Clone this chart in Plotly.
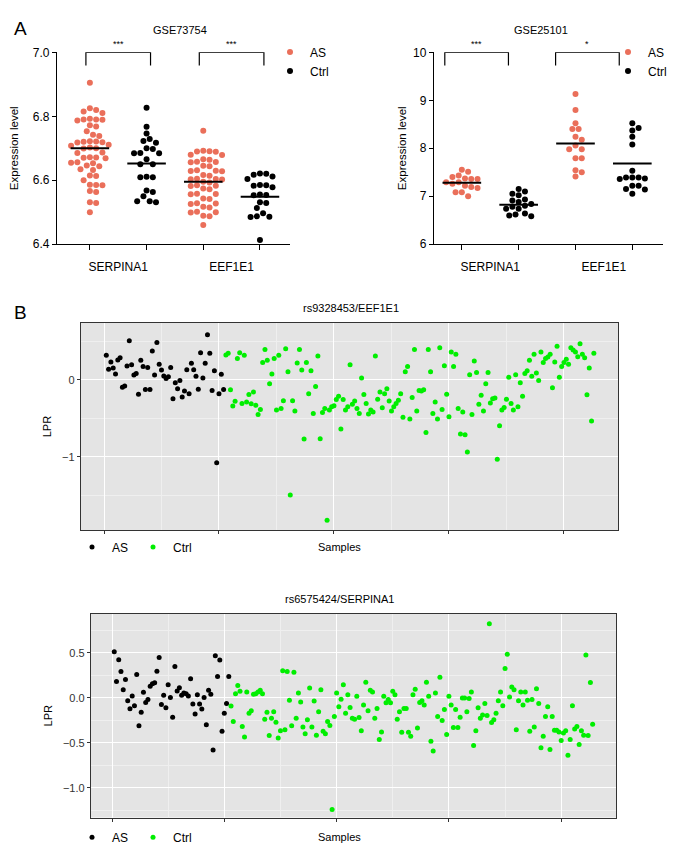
import plotly.graph_objects as go

# ---------------- Data ----------------
genes = ["SERPINA1", "EEF1E1"]
groups = ["AS", "Ctrl"]

# Panel A, GSE73754
gse73754_as_serpina1 = [6.905, 6.825, 6.82, 6.815, 6.81, 6.792, 6.79, 6.789, 6.79, 6.787,
                        6.772, 6.768, 6.753, 6.742, 6.738, 6.722, 6.72, 6.719, 6.721, 6.718,
                        6.711, 6.708, 6.70, 6.702, 6.699, 6.687, 6.685, 6.672, 6.67, 6.669,
                        6.671, 6.656, 6.655, 6.653, 6.646, 6.644, 6.634, 6.632, 6.615, 6.613,
                        6.60, 6.586, 6.585, 6.584, 6.566, 6.563, 6.531, 6.529, 6.50]
gse73754_ctrl_serpina1 = [6.827, 6.767, 6.746, 6.729, 6.723, 6.717, 6.700, 6.698, 6.684, 6.684,
                          6.685, 6.666, 6.650, 6.650, 6.611, 6.609, 6.609, 6.568, 6.563, 6.550,
                          6.534, 6.531, 6.534]
gse73754_as_eef1e1 = [6.755, 6.691, 6.69, 6.689, 6.692, 6.68, 6.679, 6.666, 6.664, 6.658,
                      6.657, 6.656, 6.645, 6.644, 6.631, 6.63, 6.629, 6.628, 6.616, 6.614,
                      6.605, 6.604, 6.603, 6.602, 6.595, 6.593, 6.584, 6.583, 6.582, 6.574,
                      6.572, 6.558, 6.557, 6.556, 6.543, 6.541, 6.528, 6.527, 6.526, 6.517,
                      6.515, 6.501, 6.50, 6.499, 6.489, 6.487, 6.46]
gse73754_ctrl_eef1e1 = [6.621, 6.62, 6.617, 6.612, 6.604, 6.585, 6.584, 6.583, 6.578, 6.555,
                        6.554, 6.553, 6.531, 6.529, 6.513, 6.497, 6.487, 6.486, 6.485, 6.413]
gse73754_means = [6.700, 6.652, 6.595, 6.548]   # AS-SERPINA1, Ctrl-SERPINA1, AS-EEF1E1, Ctrl-EEF1E1
gse73754_sig = ["***", "***"]

# Panel A, GSE25101
gse25101_as_serpina1 = [7.55, 7.51, 7.43, 7.40, 7.36, 7.37, 7.36, 7.29, 7.29, 7.26,
                        7.19, 7.22, 7.17, 7.08, 7.08, 7.00]
gse25101_ctrl_serpina1 = [7.10, 7.15, 7.02, 7.05, 6.93, 6.91, 6.84, 6.88, 6.78, 6.80,
                          6.74, 6.74, 6.64, 6.62, 6.60, 6.58]
gse25101_as_eef1e1 = [9.13, 8.80, 8.52, 8.40, 8.40, 8.24, 8.18, 8.06, 7.98, 7.98,
                      7.79, 7.79, 7.54, 7.50, 7.41]
gse25101_ctrl_eef1e1 = [8.52, 8.42, 8.37, 8.24, 8.08, 7.53, 7.39, 7.39, 7.37, 7.39,
                        7.36, 7.22, 7.22, 7.15, 7.14, 7.05]
gse25101_means = [7.28, 6.82, 8.10, 7.68]
gse25101_sig = ["***", "*"]

# Panel B, LPR per sample (in sample order)
lpr_eef1e1_as = [0.32, 0.14, 0.235, 0.154, 0.077, 0.26, 0.29, -0.094, -0.08, 0.18,
                 0.51, 0.197, 0.064, 0.085, -0.188, 0.256, 0.175, -0.124, 0.162, -0.124,
                 0.376, 0.064, 0.487, 0.205, 0.128, 0.05, 0.02, 0.043, 0.162, -0.244,
                 -0.038, -0.115, -0.009, -0.222, -0.145, 0.132, -0.18, 0.218, 0.132, 0.047,
                 -0.12, 0.355, 0.026, 0.218, 0.59, 0.346, -0.137, 0.12, -1.08, -0.18,
                 0.073, -0.124]
lpr_eef1e1_ctrl = [0.325, 0.346, -0.128, -0.34, -0.278, 0.28, 0.355, -0.308, 0.32, -0.286,
                   -0.19, -0.31, -0.158, -0.33, -0.45,
                   -0.385, 0.226, 0.397, 0.256, -0.05, 0.077, 0.278, -0.393, 0.32, -0.372,
                   -0.27, 0.406, 0.107, -1.5, -0.27, -0.406, 0.222, 0.397, 0.128, -0.77,
                   0.226, -0.18, 0.12, -0.436, -0.085, 0.312, -0.765, -0.423, -0.372, -1.83,
                   -0.393, -0.35, -0.338, -0.256, -0.214, -0.64, -0.256, -0.393, -0.35, 0.197,
                   -0.316, -0.273, -0.372, -0.436, 0.026, -0.19, -0.308, -0.444, -0.393, -0.419,
                   0.312, -0.252, -0.158, -0.363, -0.18, -0.115, -0.273, -0.406, -0.35, -0.308,
                   -0.265, -0.18, -0.487, 0.107, 0.175, -0.508, -0.23, 0.397, -0.406, -0.137,
                   -0.145, -0.128, -0.684, 0.397, 0.107, -0.436, -0.286,
                   -0.508, 0.419, -0.385, 0.184, -0.188, -0.479, 0.363, 0.175, 0.333, -0.372,
                   -0.705, -0.419, -0.714, -0.94, 0.068, -0.449, 0.248, 0.098, -0.316, -0.2,
                   -0.406, -0.05, 0.098, -0.3, -0.244, -0.235, -1.034, -0.598, -0.393, -0.36,
                   -0.252, 0.034, -0.308, -0.393, 0.068, -0.35, -0.038, -0.214, 0.085, 0.12,
                   0.256, 0.047, 0.333, 0.09, -0.009, 0.363, 0.226, 0.278, 0.3, 0.333,
                   -0.103, 0.235, 0.44, 0.034, 0.175, 0.226, 0.269, 0.205, 0.419, 0.39,
                   0.363, 0.303, 0.47, 0.333, 0.29, -0.192, 0.154, -0.534, 0.346]

lpr_serpina1_as = [0.514, 0.182, 0.423, 0.292, 0.091, 0.204, -0.033, -0.12, 0.022, -0.088,
                   0.259, -0.31, -0.16, 0.062, -0.051, -0.018, 0.128, 0.157, 0.168, 0.295,
                   0.449, -0.073, 0.029, -0.109, 0.146, 0.004, -0.215, 0.35, 0.077, 0.113,
                   0.029, 0.055, 0.047, 0.022, 0.212, -0.069, -0.179, 0.036, -0.069, -0.124,
                   0.004, -0.299, 0.084, 0.04, -0.58, 0.467, 0.237, 0.42, -0.372, -0.171,
                   -0.062, 0.237]
lpr_serpina1_ctrl = [-0.091, -0.263, 0.047, 0.139, 0.073, -0.317, -0.434, 0.066, -0.171, -0.142,
                     0.04, 0.047, 0.066, 0.084, 0.047, -0.237, -0.16, -0.419,
                     -0.226, -0.153, -0.27, -0.445, -0.365, 0.303, -0.354, 0.292, -0.026, -0.31,
                     0.284, -0.226, 0.055, -0.047, -0.325, -0.398, -0.244, 0.109, -0.325, -0.036,
                     -0.416, -0.153, 0.091, -0.372, -0.398, -0.263, -0.306, -1.24, -0.208, 0.055,
                     -0.098, -0.015, 0.146, -0.171, 0.036, -0.106, -0.226, -0.237, 0.018, -0.219,
                     -0.365, -0.08, 0.175, -0.142, 0.084, 0.066, -0.226, -0.117, -0.463, -0.379,
                     0.018, -0.055, -0.018, -0.055, 0.073, 0.036, -0.237, -0.153, -0.383, -0.117,
                     -0.117, -0.383, -0.427, 0.036, 0.095, -0.336, -0.051, -0.033, -0.08, 0.175,
                     0.018, -0.481, -0.591, 0.055, -0.208, 0.23, -0.252, -0.128, -0.408,
                     0.018, -0.08, -0.328, -0.128, -0.328, -0.215, 0.0, 0.0, -0.153, -0.007,
                     0.066, -0.529, -0.365, -0.109, -0.226, -0.19, -0.062, -0.197, 0.824, -0.274,
                     -0.244, -0.171, -0.033, 0.066, -0.088, 0.328, 0.485, 0.011, 0.12, 0.091,
                     -0.354, -0.033, 0.066, -0.08, 0.066, -0.026, -0.372, -0.018, -0.325, 0.102,
                     -0.062, -0.554, -0.427, -0.208, -0.098, -0.573, -0.208, -0.361, -0.361, -0.379,
                     -0.474, -0.39, -0.365, -0.638, -0.463, -0.088, -0.346, -0.317, -0.518, -0.365,
                     -0.416, 0.478, -0.419, 0.171, -0.292]

# ---------------- Styling ----------------
W, H = 677, 848
FONT = "Liberation Sans, Arial, Helvetica, sans-serif"
AS_COLOR = "#EA6F5A"
CTRL_COLOR = "#000000"
B_AS_COLOR = "#000000"
B_CTRL_COLOR = "#00EE00"
PANEL_BG = "#E4E4E4"


def px(x):
    return x / W


def py(y):
    return 1 - y / H


def swarm(vals, center, px_per_x, px_per_y, d):
    """Deterministic beeswarm offsets (pixel-space collision avoidance)."""
    order = sorted(range(len(vals)), key=lambda i: -vals[i])
    cands = [0.0]
    for k in range(1, 60):
        cands += [k * d * 0.5, -k * d * 0.5]
    placed, out = [], [center] * len(vals)
    for i in order:
        yv = vals[i] * px_per_y
        for c in cands:
            if all((c - a) ** 2 + (yv - b) ** 2 >= d * d for a, b in placed):
                placed.append((c, yv))
                out[i] = center + c / px_per_x
                break
    return out


fig = go.Figure()

# ---------- Panel A ----------
panelsA = [
    dict(xa="x", ya="y", leg="legend", yr=[6.4, 7.0],
         data=[gse73754_as_serpina1, gse73754_ctrl_serpina1, gse73754_as_eef1e1, gse73754_ctrl_eef1e1],
         means=gse73754_means, sig=gse73754_sig, brackets=[(0.93, 2.07), (2.93, 4.07)],
         xr=[0.42, 4.53]),
    dict(xa="x2", ya="y2", leg="legend2", yr=[6, 10],
         data=[gse25101_as_serpina1, gse25101_ctrl_serpina1, gse25101_as_eef1e1, gse25101_ctrl_eef1e1],
         means=gse25101_means, sig=gse25101_sig, brackets=[(0.70, 1.82), (2.65, 3.77)],
         xr=[0.51, 4.54]),
]
positions = [1, 2, 3, 4]
PX_PER_X = 57.0
PLOT_H = 195.0
shapes = []
annotations = []
for p in panelsA:
    pyu = PLOT_H / (p["yr"][1] - p["yr"][0])
    xs_as = swarm(p["data"][0], positions[0], PX_PER_X, pyu, 6.3) + swarm(p["data"][2], positions[2], PX_PER_X, pyu, 6.3)
    ys_as = p["data"][0] + p["data"][2]
    xs_ct = swarm(p["data"][1], positions[1], PX_PER_X, pyu, 6.3) + swarm(p["data"][3], positions[3], PX_PER_X, pyu, 6.3)
    ys_ct = p["data"][1] + p["data"][3]
    fig.add_trace(go.Scatter(x=xs_as, y=ys_as, mode="markers", name="AS",
                             marker=dict(color=AS_COLOR, size=6), xaxis=p["xa"], yaxis=p["ya"],
                             legend=p["leg"], hoverinfo="y"))
    fig.add_trace(go.Scatter(x=xs_ct, y=ys_ct, mode="markers", name="Ctrl",
                             marker=dict(color=CTRL_COLOR, size=6), xaxis=p["xa"], yaxis=p["ya"],
                             legend=p["leg"], hoverinfo="y"))
    lx, ly = [], []
    for c, m in zip(positions, p["means"]):
        lx += [c - 0.34, c + 0.34, None]
        ly += [m, m, None]
    fig.add_trace(go.Scatter(x=lx, y=ly, mode="lines", line=dict(color="black", width=2),
                             showlegend=False, xaxis=p["xa"], yaxis=p["ya"], hoverinfo="skip"))
    ytop = p["yr"][1]
    yleg = ytop - 0.068 * (p["yr"][1] - p["yr"][0])
    for (b0, b1), s in zip(p["brackets"], p["sig"]):
        shapes.append(dict(type="path", xref=p["xa"], yref=p["ya"],
                           path=f"M {b0},{yleg} L {b0},{ytop} L {b1},{ytop} L {b1},{yleg}",
                           line=dict(color="black", width=1.2)))
        annotations.append(dict(x=(b0 + b1) / 2, y=ytop, xref=p["xa"], yref=p["ya"], text=s,
                                showarrow=False, yanchor="bottom", yshift=1,
                                font=dict(size=9, color="black", family=FONT)))

# ---------- Panel B ----------
panelsB = [
    dict(xa="x3", ya="y3", leg="legend3", as_vals=lpr_eef1e1_as, ct_vals=lpr_eef1e1_ctrl),
    dict(xa="x4", ya="y4", leg="legend4", as_vals=lpr_serpina1_as, ct_vals=lpr_serpina1_ctrl),
]
for p in panelsB:
    n_as = len(p["as_vals"])
    n_ct = len(p["ct_vals"])
    fig.add_trace(go.Scatter(x=list(range(1, n_as + 1)), y=p["as_vals"], mode="markers", name="AS",
                             marker=dict(color=B_AS_COLOR, size=5), xaxis=p["xa"], yaxis=p["ya"],
                             legend=p["leg"]))
    fig.add_trace(go.Scatter(x=list(range(n_as + 1, n_as + n_ct + 1)), y=p["ct_vals"], mode="markers",
                             name="Ctrl", marker=dict(color=B_CTRL_COLOR, size=5),
                             xaxis=p["xa"], yaxis=p["ya"], legend=p["leg"]))
    shapes.append(dict(type="rect", xref=f"{p['xa']} domain", yref=f"{p['ya']} domain",
                       x0=0, x1=1, y0=0, y1=1, fillcolor=PANEL_BG, line=dict(width=0), layer="below"))

# ---------- Axes ----------
axA_common = dict(showline=True, linecolor="black", linewidth=1.3, showgrid=False, zeroline=False,
                  tickfont=dict(size=12, color="black", family=FONT))
fig.update_layout(
    xaxis=dict(domain=[px(49), px(282)], anchor="y", range=panelsA[0]["xr"],
               tickvals=[1.5, 3.5], ticktext=genes, ticks="", ticklabelstandoff=11,
               minor=dict(tickvals=positions, ticks="outside", ticklen=5, tickwidth=1.3, tickcolor="black"),
               **axA_common),
    yaxis=dict(domain=[py(233), py(38)], anchor="x", range=[6.4, 7.0], tickvals=[6.4, 6.6, 6.8, 7.0],
               tickformat=".1f", ticks="outside", ticklen=4, tickwidth=1.3, tickcolor="black",
               title=dict(text="Expression level", font=dict(size=11.5, color="black", family=FONT), standoff=13),
               **axA_common),
    xaxis2=dict(domain=[px(426), px(655)], anchor="y2", range=panelsA[1]["xr"],
                tickvals=[1.5, 3.5], ticktext=genes, ticks="", ticklabelstandoff=11,
                minor=dict(tickvals=positions, ticks="outside", ticklen=5, tickwidth=1.3, tickcolor="black"),
                **axA_common),
    yaxis2=dict(domain=[py(233), py(38)], anchor="x2", range=[6, 10], tickvals=[6, 7, 8, 9, 10],
                ticks="outside", ticklen=4, tickwidth=1.3, tickcolor="black",
                title=dict(text="Expression level", font=dict(size=11.5, color="black", family=FONT), standoff=4),
                **axA_common),
)

axB_common = dict(showline=True, mirror=True, linecolor="#333333", linewidth=1.3, zeroline=False,
                  showgrid=True, gridcolor="white", gridwidth=1.2,
                  ticks="outside", ticklen=3, tickwidth=1, tickcolor="#333333",
                  tickfont=dict(size=11, color="#333333", family=FONT))
fig.update_layout(
    xaxis3=dict(domain=[px(73), px(610)], anchor="y3", range=[-10, 223.5],
                tickvals=[0, 50, 100, 150, 200], showticklabels=False,
                minor=dict(tickvals=[25, 75, 125, 175], showgrid=True, gridcolor="#EFEFEF", gridwidth=0.6),
                **axB_common),
    yaxis3=dict(domain=[py(524), py(313)], anchor="x3", range=[-1.96, 0.744], tickvals=[-1, 0],
                minor=dict(tickvals=[-1.5, -0.5, 0.5], showgrid=True, gridcolor="#EFEFEF", gridwidth=0.6),
                title=dict(text="LPR", font=dict(size=11, color="black", family=FONT), standoff=8),
                **axB_common),
    xaxis4=dict(domain=[px(83), px(608)], anchor="y4", range=[-9.35, 224.4],
                tickvals=[0, 50, 100, 150, 200], showticklabels=False,
                minor=dict(tickvals=[25, 75, 125, 175], showgrid=True, gridcolor="#EFEFEF", gridwidth=0.6),
                **axB_common),
    yaxis4=dict(domain=[py(816), py(609)], anchor="x4", range=[-1.33, 0.933],
                tickvals=[-1.0, -0.5, 0.0, 0.5], tickformat=".1f",
                minor=dict(tickvals=[-1.25, -0.75, -0.25, 0.25, 0.75], showgrid=True,
                           gridcolor="#EFEFEF", gridwidth=0.6),
                title=dict(text="LPR", font=dict(size=11, color="black", family=FONT), standoff=8),
                **axB_common),
)

# ---------- Text annotations ----------
def label(text, x, y, size, xanchor="center", yanchor="middle", color="black"):
    annotations.append(dict(text=text, x=px(x), y=py(y), xref="paper", yref="paper", showarrow=False,
                            xanchor=xanchor, yanchor=yanchor,
                            font=dict(size=size, color=color, family=FONT)))

label("A", 4, 14, 19, xanchor="left")
label("B", 4, 303, 19, xanchor="left")
label("GSE73754", 172, 15, 11)
label("GSE25101", 533, 15, 11)
label("rs9328453/EEF1E1", 343, 298, 11)
label("rs6575424/SERPINA1", 331, 594, 11)
label("Samples", 331, 541, 11)
label("Samples", 331, 836, 11)

leg_font = dict(size=12, color="black", family=FONT)
fig.update_layout(
    width=W, height=H, margin=dict(l=0, r=0, t=0, b=0),
    paper_bgcolor="white", plot_bgcolor="white",
    font=dict(family=FONT, color="black"),
    shapes=shapes, annotations=annotations,
    legend=dict(x=px(262), y=py(23), xanchor="left", yanchor="top", font=leg_font,
                bgcolor="rgba(0,0,0,0)", tracegroupgap=0),
    legend2=dict(x=px(600), y=py(23), xanchor="left", yanchor="top", font=leg_font,
                 bgcolor="rgba(0,0,0,0)", tracegroupgap=0),
    legend3=dict(x=px(64), y=py(541), xanchor="left", yanchor="middle", orientation="h",
                 font=leg_font, bgcolor="rgba(0,0,0,0)"),
    legend4=dict(x=px(64), y=py(836), xanchor="left", yanchor="middle", orientation="h",
                 font=leg_font, bgcolor="rgba(0,0,0,0)"),
)

fig.write_html("out.html")
